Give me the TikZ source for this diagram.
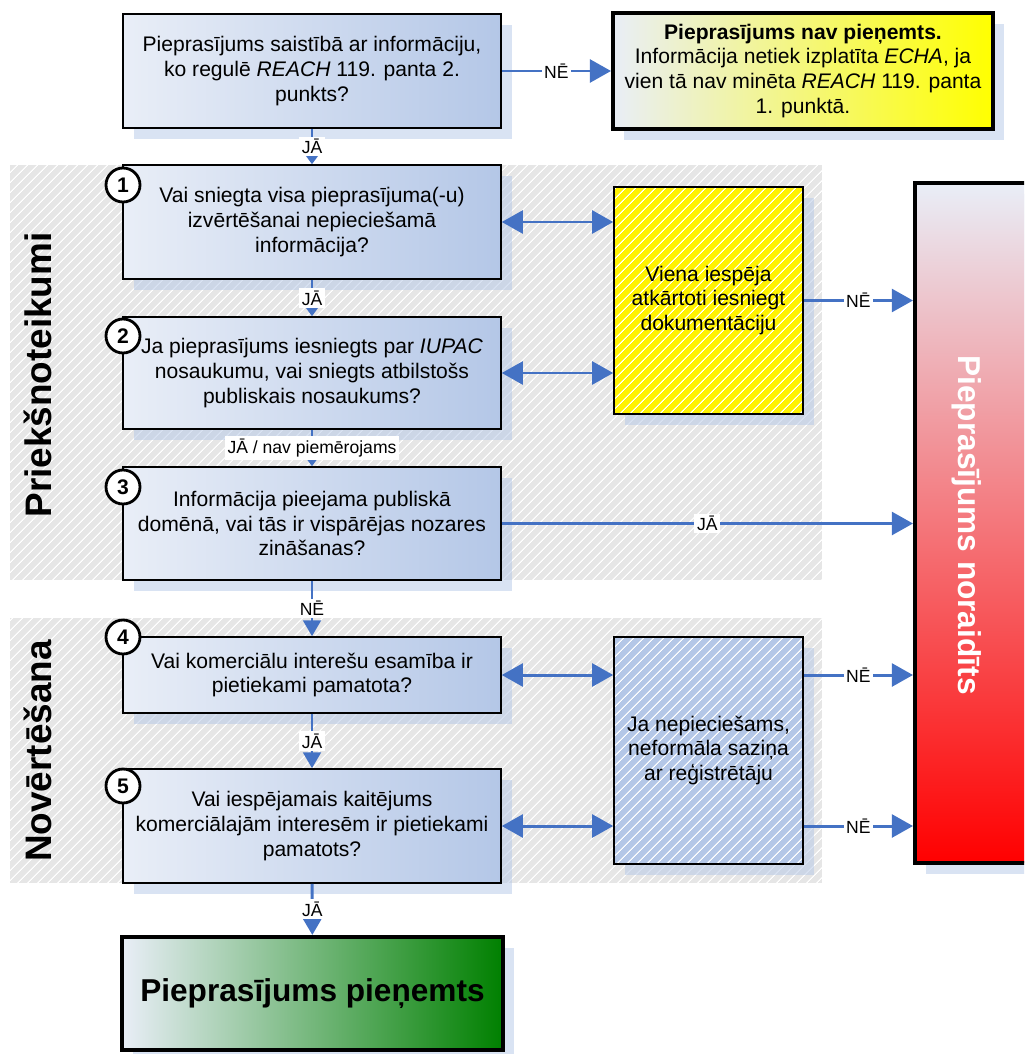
\documentclass[tikz,border=0pt]{standalone}
\usepackage{fontspec}
\setmainfont{Liberation Sans}
\usetikzlibrary{arrows.meta,shadows,patterns.meta}

\definecolor{qlight}{RGB}{233,238,247}
\definecolor{qblue}{RGB}{180,199,231}
\definecolor{arrowblue}{RGB}{68,114,196}
\definecolor{bandgrey}{RGB}{230,230,230}
\definecolor{okgreen}{RGB}{0,128,0}
\newcommand{\boxfont}{\fontsize{12}{14.2}\selectfont}
\newcommand{\lblfont}{\fontsize{10}{12}\selectfont}

\begin{document}
\begin{tikzpicture}[x=0.02cm, y=-0.02cm]
\tikzset{
  shade box/.style={drop shadow={shadow xshift=0.22cm, shadow yshift=-0.22cm, fill=qblue, opacity=0.5}},
  hatch/.style={preaction={fill=#1}, pattern={Lines[angle=45,distance=4pt,line width=0.6pt]}, pattern color=white},
  q box/.style={shade box, draw=black, line width=0.9pt, left color=qlight, right color=qblue,
                minimum width=7.56cm, align=center, font=\boxfont, inner sep=0pt},
  side box/.style={shade box, hatch=#1, draw=black, line width=0.9pt, minimum width=3.78cm,
                   minimum height=4.54cm, align=center, font=\boxfont, inner sep=0pt},
  end box/.style={shade box, draw=black, line width=2.3pt, align=center, inner sep=0pt},
  num/.style={circle, draw=black, fill=white, line width=1.6pt, minimum size=0.68cm, inner sep=0pt,
              font=\fontsize{12}{12}\selectfont\bfseries},
  band label/.style={rotate=90, font=\fontsize{21}{21}\selectfont\bfseries},
  conn/.style={color=arrowblue, line width=1.7pt},
  smalltip/.style={-{Triangle[length=5pt,width=7pt]}},
  midtip/.style={-{Triangle[length=9pt,width=10pt]}},
  bigtip/.style={-{Triangle[length=12pt,width=13pt]}},
  bothtips/.style={{Triangle[length=12pt,width=13pt]}-{Triangle[length=12pt,width=13pt]}},
  lbl/.style={fill=white, inner sep=1.5pt, font=\lblfont, text=black},
}
\useasboundingbox (0,0) rectangle (1024,1054);
\clip (0,0) rectangle (1024,1054);

% backgrounds
\path[hatch=bandgrey] (10,165) rectangle (822,580);
\path[hatch=bandgrey] (10,618) rectangle (822,883);
\node[band label] at (38,375) (pre) {Priekšnoteikumi};
\node[band label] at (38,751) (nov) {Novērtēšana};

% questions
\node[q box, minimum height=2.28cm] at (312,71) (q0)
  {Pieprasījums saistībā ar informāciju,\\ ko regulē \textit{REACH} 119. panta 2.\\ punkts?};
\node[q box, minimum height=2.28cm] at (312,222) (q1)
  {Vai sniegta visa pieprasījuma(-u)\\ izvērtēšanai nepieciešamā\\ informācija?};
\node[q box, minimum height=2.24cm] at (312,373) (q2)
  {Ja pieprasījums iesniegts par \textit{IUPAC}\\ nosaukumu, vai sniegts atbilstošs\\ publiskais nosaukums?};
\node[q box, minimum height=2.26cm] at (312,523.5) (q3)
  {Informācija pieejama publiskā\\ domēnā, vai tās ir vispārējas nozares\\ zināšanas?};
\node[q box, minimum height=1.52cm] at (312,675) (q4)
  {Vai komerciālu interešu esamība ir\\ pietiekami pamatota?};
\node[q box, minimum height=2.28cm] at (312,826) (q5)
  {Vai iespējamais kaitējums\\ komerciālajām interesēm ir pietiekami\\ pamatots?};

\node[num] at (123,185) (n1) {1};
\node[num] at (123,336) (n2) {2};
\node[num] at (123,487) (n3) {3};
\node[num] at (123,637) (n4) {4};
\node[num] at (123,786) (n5) {5};

% side boxes
\node[side box=yellow] at (708.5,300.5) (rep)
  {Viena iespēja\\ atkārtoti iesniegt\\ dokumentāciju};
\node[side box=qblue] at (708.5,750.5) (inf)
  {Ja nepieciešams,\\ neformāla saziņa\\ ar reģistrētāju};

% results
\node[end box, left color=qlight, right color=yellow, minimum width=7.6cm, minimum height=2.32cm,
      font=\boxfont] at (803,71) (nok)
  {\textbf{Pieprasījums nav pieņemts.}\\ Informācija netiek izplatīta \textit{ECHA}, ja\\
   vien tā nav minēta \textit{REACH} 119. panta\\ 1. punktā.};
\node[end box, top color=qlight, bottom color=red, minimum width=2.3cm, minimum height=13.6cm]
  at (972.5,523) (rej) {};
\node[rotate=-90, text=white, font=\fontsize{18}{18}\selectfont\bfseries] at (967,525) (rejtxt)
  {Pieprasījums noraidīts};
\node[end box, left color=qlight, right color=okgreen, minimum width=7.62cm, minimum height=2.26cm,
      font=\fontsize{18}{18}\selectfont\bfseries] at (312.5,993.5) (acc)
  {Pieprasījums pieņemts};

\draw[conn]
  (q0) edge[smalltip] node[lbl] {JĀ} (q1)
  (q1) edge[smalltip] node[lbl] {JĀ} (q2)
  (q2) edge[smalltip] node[lbl] {JĀ / nav piemērojams} (q3)
  (q3) edge[midtip] node[lbl] {NĒ} (q4)
  (q4) edge[midtip] node[lbl] {JĀ} (q5)
  (q5) edge[midtip] node[lbl] {JĀ} (acc)
  (q0) edge[bigtip] node[lbl] {NĒ} (nok)
  (q1.east) edge[bothtips] (q1.east -| rep.west)
  (q2.east) edge[bothtips] (q2.east -| rep.west)
  (rep.east) edge[bigtip] node[lbl] {NĒ} (rep.east -| rej.west)
  (q3.east) edge[bigtip] node[lbl] {JĀ} (q3.east -| rej.west)
  (q4.east) edge[bothtips] (q4.east -| inf.west)
  (q5.east) edge[bothtips] (q5.east -| inf.west)
  (inf.east |- q4.east) edge[bigtip] node[lbl] {NĒ} (q4.east -| rej.west)
  (inf.east |- q5.east) edge[bigtip] node[lbl] {NĒ} (q5.east -| rej.west)
;
\end{tikzpicture}
\end{document}
